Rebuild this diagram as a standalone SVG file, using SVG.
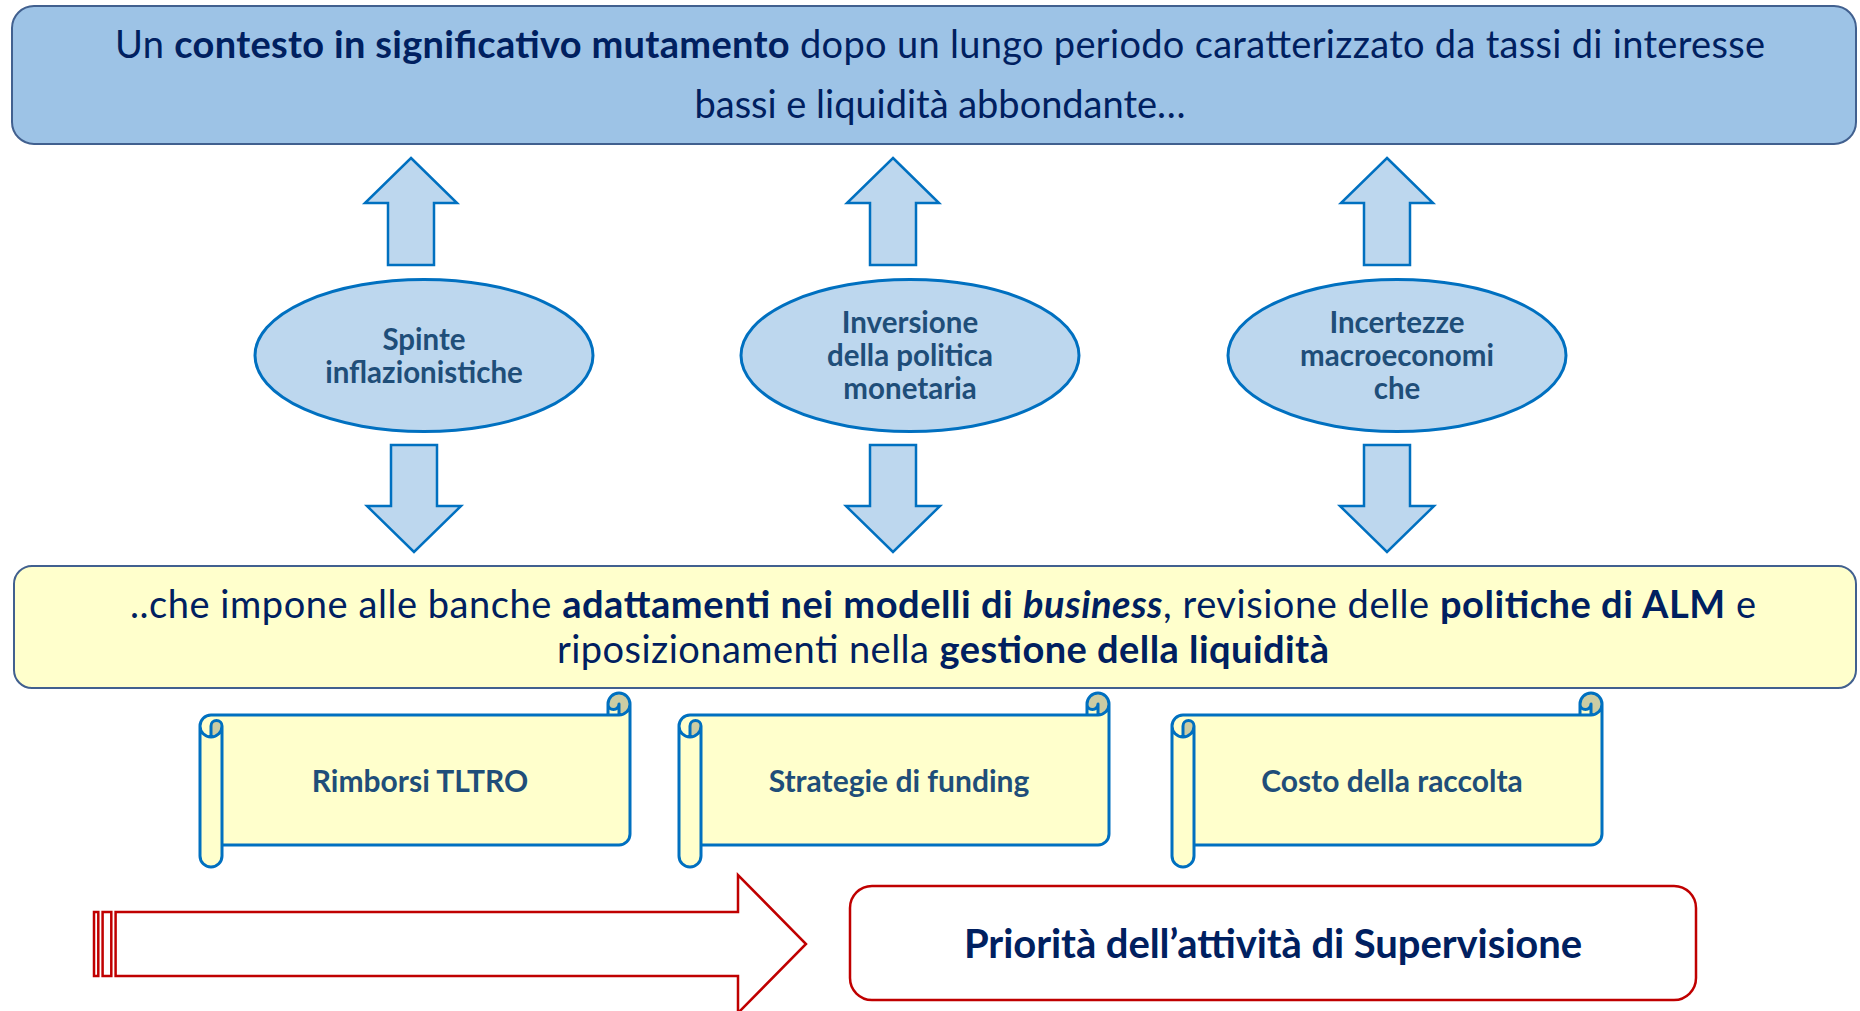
<svg xmlns="http://www.w3.org/2000/svg" width="1860" height="1011" viewBox="0 0 1860 1011">
<style>
text{font-family:Lato,"Open Sans","Liberation Sans",sans-serif}
.navy{fill:#002060}
.b{font-weight:700}
.i{font-style:italic}
.big{font-size:38px;text-anchor:middle}
.topbox{fill:#9DC3E6;stroke:#41608F;stroke-width:2}
.ybox{fill:#FFFFCC;stroke:#41608F;stroke-width:2}
.ell{fill:#BDD7EE;stroke:#0070C0;stroke-width:3}
.ellt{font-size:29.5px;font-weight:700;fill:#1F4E79;text-anchor:middle}
.blk{fill:#BDD7EE;stroke:#0070C0;stroke-width:2.5}
.scf{fill:#FFFFCC}
.scd{fill:#CCCCA3}
.scs{fill:none;stroke:#0070C0;stroke-width:3;stroke-linejoin:round}
.sct{font-size:30px;font-weight:700;fill:#1F4E79;text-anchor:middle}
.red{fill:#FFFFFF;stroke:#C00000;stroke-width:2.5}
.pt{font-size:40px;font-weight:700;fill:#002060;text-anchor:middle}
</style>
<defs>
<polygon id="up" class="blk" points="0,0 46,45 23,45 23,107 -23,107 -23,45 -46,45"/>
<polygon id="down" class="blk" points="-23,0 23,0 23,61 47,61 0,107 -47,61 -23,61"/>
<g id="scroll">
<path class="scf" d="M430,11 A11,11 0 0 1 419,22 L419,11 A5.5,5.5 0 0 1 408,11 L408,22 L11,22 A11,11 0 0 0 0,33 L0,163 A11,11 0 0 0 22,163 L22,152 L419,152 A11,11 0 0 0 430,141 Z M11,44 A11,11 0 0 0 22,33 A5.5,5.5 0 0 0 11,33 Z"/>
<path class="scd" d="M11,44 A11,11 0 0 0 22,33 A5.5,5.5 0 0 0 11,33 Z M419,22 A11,11 0 1 0 408,11 A5.5,5.5 0 0 0 419,11 Z"/>
<path class="scs" d="M0,33 A11,11 0 0 1 11,22 L408,22 L408,11 A11,11 0 0 1 430,11 L430,141 A11,11 0 0 1 419,152 L22,152 L22,163 A11,11 0 0 1 0,163 Z M408,22 L419,22 A11,11 0 0 0 430,11 M419,22 L419,11 A5.5,5.5 0 0 1 408,11 M11,44 L11,33 A5.5,5.5 0 0 1 22,33 A11,11 0 0 1 0,33 M22,33 L22,152"/>
</g>
</defs>

<g id="context">
<rect class="topbox" x="12" y="6" width="1844" height="138" rx="22"/>
<text class="big navy" x="940" y="58" textLength="1650">Un <tspan class="b">contesto in significativo mutamento</tspan> dopo un lungo periodo caratterizzato da tassi di interesse</text>
<text class="big navy" x="940" y="118" textLength="491">bassi e liquidità abbondante…</text>
</g>

<g id="spinte">
<ellipse class="ell" cx="424" cy="355.5" rx="169" ry="76"/>
<text class="ellt" x="424" y="350">Spinte</text>
<text class="ellt" x="424" y="383">inflazionistiche</text>
</g>
<g id="inversione">
<ellipse class="ell" cx="910" cy="355.5" rx="169" ry="76"/>
<text class="ellt" x="910" y="333">Inversione</text>
<text class="ellt" x="910" y="366">della politica</text>
<text class="ellt" x="910" y="399">monetaria</text>
</g>
<g id="incertezze">
<ellipse class="ell" cx="1397" cy="355.5" rx="169" ry="76"/>
<text class="ellt" x="1397" y="333">Incertezze</text>
<text class="ellt" x="1397" y="366">macroeconomi</text>
<text class="ellt" x="1397" y="399">che</text>
</g>

<g id="impatto">
<rect class="ybox" x="14" y="566" width="1842" height="122" rx="18"/>
<text class="big navy" x="943" y="618" textLength="1626">..che impone alle banche <tspan class="b">adattamenti nei modelli di <tspan class="i">business</tspan></tspan>, revisione delle <tspan class="b">politiche di ALM</tspan> e</text>
<text class="big navy" x="943" y="663" textLength="772">riposizionamenti nella <tspan class="b">gestione della liquidità</tspan></text>
</g>

<g id="tltro">
<use href="#scroll" transform="translate(200,693)"/>
<text class="sct" x="420" y="792">Rimborsi TLTRO</text>
</g>
<g id="funding">
<use href="#scroll" transform="translate(679,693)"/>
<text class="sct" x="899" y="792">Strategie di funding</text>
</g>
<g id="costo">
<use href="#scroll" transform="translate(1172,693)"/>
<text class="sct" x="1392" y="792">Costo della raccolta</text>
</g>

<g id="priorita">
<rect class="red" x="850" y="886" width="846" height="114" rx="22"/>
<text class="pt" x="1273" y="958" textLength="618">Priorità dell’attività di Supervisione</text>
</g>

<g id="connectors">
<use href="#up" x="411" y="158"/>
<use href="#up" x="893" y="158"/>
<use href="#up" x="1387" y="158"/>
<use href="#down" x="414" y="445"/>
<use href="#down" x="893" y="445"/>
<use href="#down" x="1387" y="445"/>
<g class="red">
<rect x="94" y="912" width="4.3" height="64"/>
<rect x="102.6" y="912" width="8.7" height="64"/>
<path d="M115.6,912 L738,912 L738,875 L806,944 L738,1013 L738,976 L115.6,976 Z"/>
</g>
</g>
</svg>
